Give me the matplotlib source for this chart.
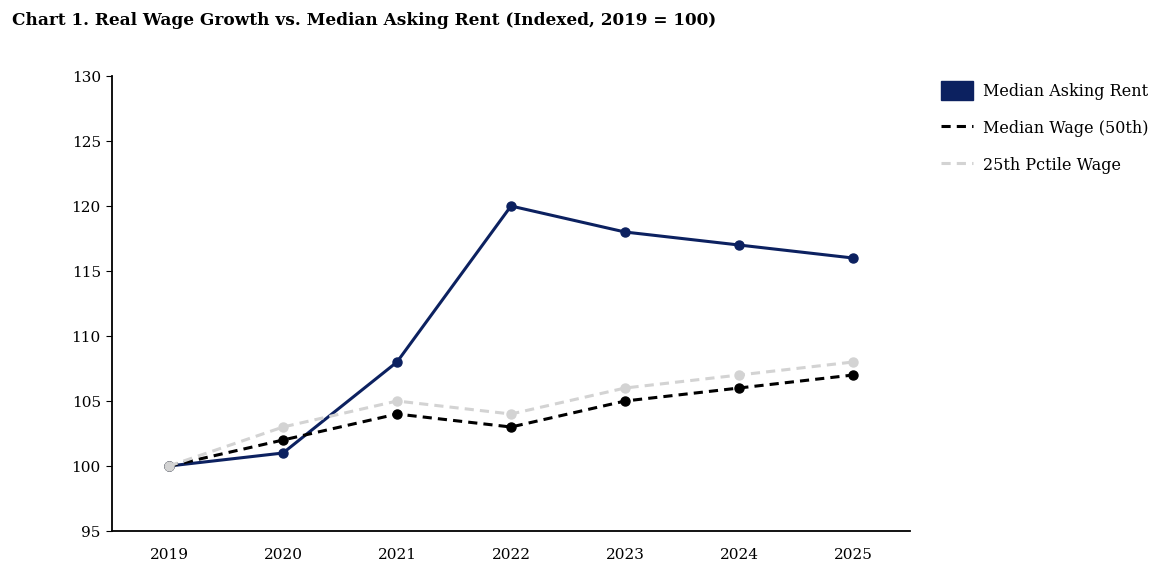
import matplotlib.pyplot as plt
from matplotlib.patches import Patch
from matplotlib.lines import Line2D

years = ["2019", "2020", "2021", "2022", "2023", "2024", "2025"]
rent = [100, 101, 108, 120, 118, 117, 116]
wage_median = [100, 102, 104, 103, 105, 106, 107]
wage_p25 = [100, 103, 105, 104, 106, 107, 108]

navy = "#0c2160"
grey = "#d3d3d3"

plt.rcParams["font.family"] = ["DejaVu Serif"]

fig = plt.figure(figsize=(11.75, 5.82), dpi=100)
ax = fig.add_axes([0.0953, 0.0876, 0.6792, 0.7818])

x = range(len(years))
ax.plot(x, rent, color=navy, lw=2.2, marker="o", ms=6.5, zorder=3)
ax.plot(x, wage_median, color="black", lw=2.2, ls=(0, (3, 2)), marker="o", ms=6.5, zorder=4)
ax.plot(x, wage_p25, color=grey, lw=2.2, ls=(0, (3, 2)), marker="o", ms=6.5, zorder=5)

ax.set_xlim(-0.5, 6.5)
ax.set_ylim(95, 130)
ax.set_yticks(range(95, 131, 5))
ax.set_xticks(list(x))
ax.set_xticklabels(years)
ax.tick_params(axis="x", length=0, pad=12, labelsize=11)
ax.tick_params(axis="y", length=4, pad=4, labelsize=11)
for s in ["top", "right"]:
    ax.spines[s].set_visible(False)
for s in ["left", "bottom"]:
    ax.spines[s].set_linewidth(1.3)

handles = [
    Patch(facecolor=navy, edgecolor=navy),
    Line2D([], [], color="black", lw=2.2, ls=(0, (3, 2))),
    Line2D([], [], color=grey, lw=2.2, ls=(0, (3, 2))),
]
labels = ["Median Asking Rent", "Median Wage (50th)", "25th Pctile Wage"]
fig.legend(handles, labels, loc="upper left", bbox_to_anchor=(0.7887, 0.885),
           frameon=False, fontsize=11.5, handlelength=2.0, handleheight=1.4,
           labelspacing=1.16, handletextpad=0.63)

fig.text(0.01, 0.9656, "Chart 1. Real Wage Growth vs. Median Asking Rent (Indexed, 2019 = 100)",
         fontsize=12.2, fontweight="bold", ha="left", va="center")

fig.savefig("out.png", dpi=100)
